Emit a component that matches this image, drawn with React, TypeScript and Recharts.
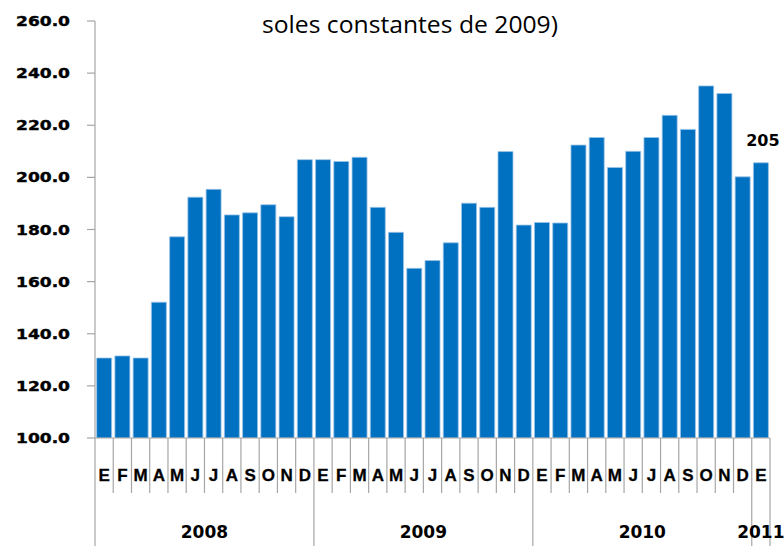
import React from 'react';
import { BarChart, Bar, XAxis, YAxis, LabelList } from 'recharts';

const months = [
  'E','F','M','A','M','J','J','A','S','O','N','D',
  'E','F','M','A','M','J','J','A','S','O','N','D',
  'E','F','M','A','M','J','J','A','S','O','N','D',
  'E',
];
const years = [
  '2008','2008','2008','2008','2008','2008','2008','2008','2008','2008','2008','2008',
  '2009','2009','2009','2009','2009','2009','2009','2009','2009','2009','2009','2009',
  '2010','2010','2010','2010','2010','2010','2010','2010','2010','2010','2010','2010',
  '2011',
];
const values = [
  130.7, 131.5, 130.7, 152.1, 177.2, 192.4, 195.4, 185.6, 186.4, 189.5, 184.9, 206.8,
  206.8, 206.1, 207.7, 188.5, 178.9, 165.1, 168.1, 174.9, 190.1, 188.5, 209.9, 181.7,
  182.7, 182.5, 212.4, 215.3, 203.8, 210.0, 215.3, 223.8, 218.4, 235.1, 232.2, 200.2,
  205.6,
];
const yTicks = [100, 120, 140, 160, 180, 200, 220, 240, 260];
const labelIndex = 36;
const labelText = '205';

const data = months.map((m, i) => ({
  key: `${years[i]}-${i}`,
  month: m,
  year: years[i],
  value: values[i],
}));

const W = 784;
const H = 546;
const X_AXIS_H = 108;
const GRID = '#a6a6a6';

const YTick = (props: any) => {
  const { x, y, payload } = props;
  const txt = Number(payload.value).toFixed(1);
  return (
    <text
      x={x}
      y={y}
      dy={5}
      textAnchor="end"
      fontFamily="DejaVu Sans"
      fontWeight="bold"
      fontSize={14}
      fill="#000"
      stroke="#000"
      strokeWidth={0.4}
      textLength={54}
      lengthAdjust="spacingAndGlyphs"
    >
      {txt}
    </text>
  );
};

const XTick = (props: any) => {
  const { x, y, payload, index } = props;
  const i = typeof index === 'number' ? index : payload.index;
  const half = payload && typeof payload.offset === 'number' && payload.offset > 0 ? payload.offset : 675 / 37 / 2;
  const left = x - half;
  const right = x + half;
  const d = data[i];
  const isYearStart = i === 0 || data[i - 1].year !== d.year;
  const isLast = i === data.length - 1;
  const yearCount = data.filter((e) => e.year === d.year).length;
  const posInYear = data.slice(0, i + 1).filter((e) => e.year === d.year).length - 1;
  let yearLabel: React.ReactNode = null;
  if (yearCount === 12 && posInYear === 6) {
    yearLabel = (
      <text x={left} y={y + 100} textAnchor="middle" fontFamily="DejaVu Sans" fontWeight="bold" fontSize={17} fill="#000">
        {d.year}
      </text>
    );
  } else if (yearCount === 1) {
    yearLabel = (
      <text x={x} y={y + 100} textAnchor="middle" fontFamily="DejaVu Sans" fontWeight="bold" fontSize={17} fill="#000">
        {d.year}
      </text>
    );
  }
  return (
    <g>
      <line x1={left} x2={left} y1={y} y2={isYearStart ? y + X_AXIS_H : y + 55} stroke={GRID} strokeWidth={1.2} />
      {isLast && <line x1={right} x2={right} y1={y} y2={y + X_AXIS_H} stroke={GRID} strokeWidth={1.2} />}
      <text x={x} y={y + 43} textAnchor="middle" fontFamily="Liberation Sans" fontWeight="bold" fontSize={17} fill="#000" stroke="#000" strokeWidth={0.3}>
        {d.month}
      </text>
      {yearLabel}
    </g>
  );
};

const renderLabel = (props: any) => {
  const { x, y, width, index } = props;
  if (index !== labelIndex) return null;
  return (
    <text
      x={x + width / 2 + 2}
      y={y - 17}
      textAnchor="middle"
      fontFamily="DejaVu Sans"
      fontWeight="bold"
      fontSize={16}
      fill="#000"
    >
      {labelText}
    </text>
  );
};

export default function App() {
  return (
    <div style={{ position: 'fixed', left: 0, top: 0, width: W, height: H, background: '#fff' }}>
      <BarChart
        width={W}
        height={H}
        data={data}
        margin={{ top: 21, right: 14, bottom: 0, left: 0 }}
        barCategoryGap="9%"
      >
        <XAxis
          dataKey="key"
          type="category"
          interval={0}
          height={X_AXIS_H}
          tickLine={false}
          tickSize={0}
          tickMargin={0}
          axisLine={{ stroke: GRID, strokeWidth: 1.2 }}
          tick={<XTick />}
        />
        <YAxis
          width={95}
          domain={[100, 260]}
          ticks={yTicks}
          interval={0}
          allowDataOverflow
          tickSize={8}
          tickMargin={17}
          tickLine={{ stroke: GRID, strokeWidth: 1.2 }}
          axisLine={{ stroke: GRID, strokeWidth: 1.2 }}
          tick={<YTick />}
        />
        <Bar dataKey="value" fill="#0070C0" stroke="#9cc4e8" strokeWidth={0.8} isAnimationActive={false}>
          <LabelList dataKey="value" content={renderLabel} />
        </Bar>
      </BarChart>
      <svg width={W} height={H} style={{ position: 'absolute', left: 0, top: 0, pointerEvents: 'none' }}>
        <text x={262} y={33} fontFamily="Open Sans" fontSize={23} fill="#000" textLength={296} lengthAdjust="spacingAndGlyphs">
          soles constantes de 2009)
        </text>
      </svg>
    </div>
  );
}
